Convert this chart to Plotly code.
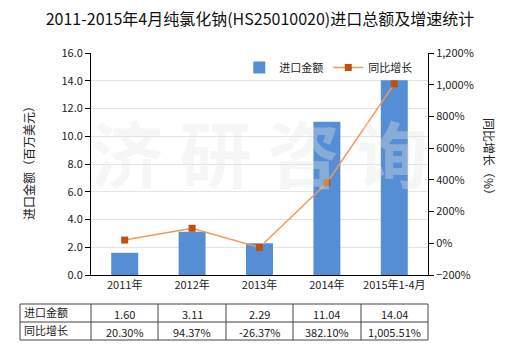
import plotly.graph_objects as go

categories = ["2011年", "2012年", "2013年", "2014年", "2015年1-4月"]
import_values = [1.60, 3.11, 2.29, 11.04, 14.04]
growth_values = [20.30, 94.37, -26.37, 382.10, 1005.51]
import_labels = ["1.60", "3.11", "2.29", "11.04", "14.04"]
growth_labels = ["20.30%", "94.37%", "-26.37%", "382.10%", "1,005.51%"]
row_names = ["进口金额", "同比增长"]

FONT = "Noto Sans CJK SC, Microsoft YaHei, sans-serif"

fig = go.Figure()
fig.add_trace(go.Bar(
    x=categories, y=import_values, name="进口金额",
    marker=dict(color="#558ED5", line=dict(width=0)), width=0.4, yaxis="y"))
fig.add_trace(go.Scatter(
    x=categories, y=growth_values, name="同比增长", yaxis="y2",
    mode="lines+markers",
    line=dict(color="#EE9A5A", width=1.5),
    marker=dict(symbol="square", size=7, color="#C0500A")))

L, R, T, B = 91, 92, 53, 75
PW, PH = 520 - L - R, 350 - T - B
def px2x(px):
    return (px - L) / PW
def py2y(py):
    return (350 - B - py) / PH

fig.update_layout(
    width=520, height=350,
    margin=dict(l=L, r=R, t=T, b=B),
    paper_bgcolor="white", plot_bgcolor="white",
    font=dict(family=FONT, size=11, color="#222"),
    title=dict(text="2011-2015年4月纯氯化钠(HS25010020)进口总额及增速统计",
               x=0.5, xanchor="center", y=0.945, yanchor="middle",
               font=dict(size=16, color="#111")),
    showlegend=True,
    legend=dict(orientation="h", x=0.44, y=1.0, xanchor="left", yanchor="top",
                font=dict(size=11), bgcolor="rgba(0,0,0,0)", traceorder="normal",
                itemwidth=30),
    xaxis=dict(showline=True, linecolor="#000", linewidth=1, ticks="",
               showgrid=False, tickfont=dict(size=11), range=[-0.5, 4.5]),
    yaxis=dict(range=[0, 16], dtick=2, tickformat=".1f", showline=True,
               linecolor="#000", linewidth=1, ticks="outside", ticklen=5,
               tickcolor="#000", gridcolor="#E4E4E4", zeroline=False,
               tickfont=dict(size=11)),
    yaxis2=dict(range=[-200, 1200], dtick=200, tickformat=",", ticksuffix="%",
                overlaying="y", side="right", showline=True, linecolor="#000",
                linewidth=1, ticks="outside", ticklen=5, tickcolor="#000",
                showgrid=False, zeroline=False, tickfont=dict(size=11)),
)

# axis titles
fig.add_annotation(text="进口金额（百万美元）", xref="paper", yref="paper",
                   x=px2x(28), y=py2y(160), xanchor="center", yanchor="middle",
                   textangle=-90, showarrow=False,
                   font=dict(size=12, color="#222"))
fig.add_annotation(text="同比增长（%）", xref="paper", yref="paper",
                   x=px2x(490), y=py2y(160), xanchor="center", yanchor="middle",
                   textangle=90, showarrow=False,
                   font=dict(size=12, color="#222"))

# watermark
fig.add_annotation(text="<b>济 研 咨 询</b>", xref="paper", yref="paper",
                   x=0.5, y=py2y(150), xanchor="center", yanchor="middle",
                   showarrow=False,
                   font=dict(size=72, color="rgba(230,230,230,0.35)"))

# data table
top, mid, bot = 304, 322, 340
left, right = 20, 428
col_edges = [91, 158, 226, 293, 361]
line_style = dict(color="#444", width=1)
for yy in (top, mid, bot):
    fig.add_shape(type="line", xref="paper", yref="paper",
                  x0=px2x(left), x1=px2x(right), y0=py2y(yy), y1=py2y(yy),
                  line=line_style)
for xx in [left] + col_edges + [right]:
    fig.add_shape(type="line", xref="paper", yref="paper",
                  x0=px2x(xx), x1=px2x(xx), y0=py2y(top), y1=py2y(bot),
                  line=line_style)
for i, name in enumerate(row_names):
    fig.add_annotation(text=name, xref="paper", yref="paper",
                       x=px2x(22), y=py2y(top + 8 + 18 * i), xanchor="left",
                       yanchor="middle",
                       showarrow=False, font=dict(size=11, color="#222"))
for c, a, g in zip(categories, import_labels, growth_labels):
    fig.add_annotation(text=a, xref="x", yref="paper", x=c, y=py2y(top + 10),
                       xanchor="center", yanchor="middle",
                       showarrow=False, font=dict(size=11, color="#222"))
    fig.add_annotation(text=g, xref="x", yref="paper", x=c, y=py2y(mid + 10),
                       xanchor="center", yanchor="middle",
                       showarrow=False, font=dict(size=11, color="#222"))

fig.write_html("out.html")
